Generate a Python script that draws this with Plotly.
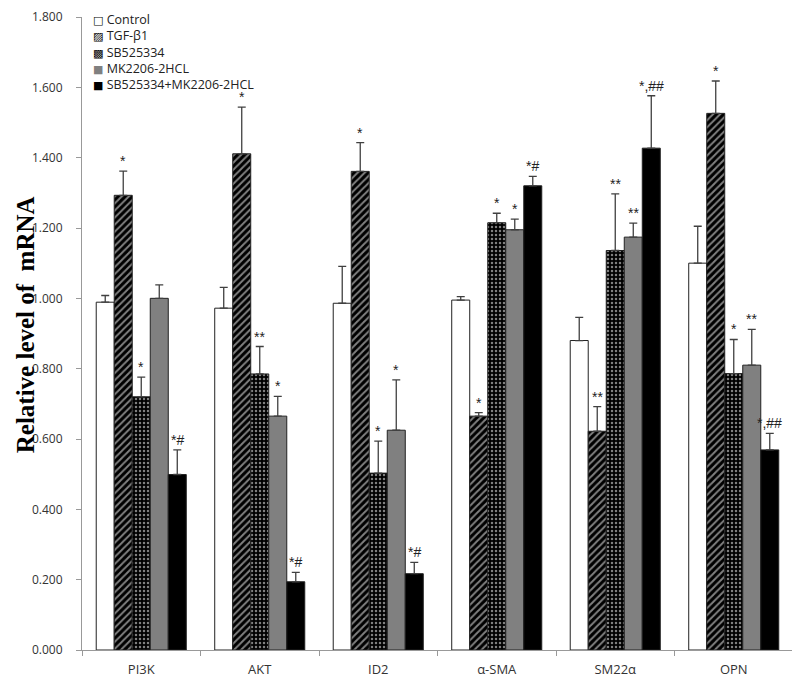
import plotly.graph_objects as go

categories = ["PI3K", "AKT", "ID2", "α-SMA", "SM22α", "OPN"]
series_names = ["Control", "TGF-β1", "SB525334", "MK2206-2HCL", "SB525334+MK2206-2HCL"]
legend_symbols = ["□", "▨", "▩", "■", "■"]
legend_symbol_colors = ["black", "black", "black", "#808080", "black"]

control = [0.989, 0.972, 0.986, 0.995, 0.880, 1.100]
tgf = [1.293, 1.411, 1.361, 0.665, 0.622, 1.526]
sb = [0.720, 0.785, 0.503, 1.215, 1.136, 0.786]
mk = [1.000, 0.665, 0.625, 1.195, 1.174, 0.810]
combo = [0.499, 0.194, 0.217, 1.320, 1.427, 0.569]

control_err = [0.019, 0.059, 0.105, 0.010, 0.066, 0.105]
tgf_err = [0.069, 0.133, 0.082, 0.010, 0.070, 0.092]
sb_err = [0.056, 0.078, 0.091, 0.027, 0.161, 0.097]
mk_err = [0.038, 0.056, 0.143, 0.030, 0.040, 0.102]
combo_err = [0.070, 0.027, 0.032, 0.027, 0.149, 0.047]

control_sig = ["", "", "", "", "", ""]
tgf_sig = ["*", "*", "*", "*", "**", "*"]
sb_sig = ["*", "**", "*", "*", "**", "*"]
mk_sig = ["", "*", "*", "*", "**", "**"]
combo_sig = ["*#", "*#", "*#", "*#", "*,##", "*,##"]

values = [control, tgf, sb, mk, combo]
errors = [control_err, tgf_err, sb_err, mk_err, combo_err]
sigs = [control_sig, tgf_sig, sb_sig, mk_sig, combo_sig]

styles = [
    dict(color="white", pattern=None),
    dict(color="black", pattern=dict(shape="/", fgcolor="white", bgcolor="black", size=5, solidity=0.4)),
    dict(color="black", pattern=dict(shape=".", fgcolor="white", bgcolor="black", size=4, solidity=0.3)),
    dict(color="#808080", pattern=None),
    dict(color="black", pattern=None),
]

# figure is placed by the page with an 8px body margin
W, H = 792, 670
ML, MR, MT, MB = 74, 7, 9, 28
plot_w = W - ML - MR
plot_h = H - MT - MB

fig = go.Figure()
for name, vals, errs, st in zip(series_names, values, errors, styles):
    marker = dict(color=st["color"], line=dict(color="#222222", width=1))
    if st["pattern"] is not None:
        marker["pattern"] = st["pattern"]
    fig.add_trace(go.Bar(
        name=name, x=categories, y=vals, marker=marker, showlegend=False,
        error_y=dict(type="data", array=errs, arrayminus=[0] * len(errs), symmetric=False,
                     color="#404040", thickness=1.3, width=4),
    ))

# significance annotations
cat_w = plot_w / len(categories)
bargap = 0.24
bar_w = cat_w * (1 - bargap) / len(series_names)
for si, (vals, errs, sg) in enumerate(zip(values, errors, sigs)):
    for ci, cat in enumerate(categories):
        if not sg[ci]:
            continue
        fig.add_annotation(
            x=cat, y=vals[ci] + errs[ci], xref="x", yref="y",
            text=sg[ci], showarrow=False, yanchor="bottom",
            xshift=(si - 2) * bar_w, yshift=0,
            font=dict(family="Liberation Sans, Arial", size=14, color="#222222"),
        )

# compact legend (top-left, inside the plot) like the original, as one text block
legend_lines = [
    '<span style="font-family:DejaVu Sans;font-size:11px;fill:%s">%s</span> %s' % (scol, sym, name)
    for name, sym, scol in zip(series_names, legend_symbols, legend_symbol_colors)
]
fig.add_annotation(
    text="<br>".join(legend_lines), align="left",
    xref="paper", yref="paper", x=(91 - 82) / plot_w, y=(plot_h + MT - 0.5) / plot_h,
    xanchor="left", yanchor="top", showarrow=False,
    font=dict(family="Open Sans, Liberation Sans", size=12.5, color="#222222"),
)

# y-axis title (placed close to the tick labels like the original)
fig.add_annotation(
    text="<b>Relative level of  mRNA</b>", textangle=-90,
    xref="paper", yref="paper", x=(17 - ML) / plot_w, y=0.513,
    xanchor="center", yanchor="middle", showarrow=False,
    font=dict(family="Liberation Serif, Times New Roman", size=25, color="black"),
)

fig.update_layout(
    width=W, height=H,
    margin=dict(l=ML, r=MR, t=MT, b=MB, autoexpand=False),
    plot_bgcolor="white", paper_bgcolor="white",
    barmode="group", bargap=bargap, bargroupgap=0,
    showlegend=False,
    font=dict(family="Open Sans, Liberation Sans", color="#333333"),
)
fig.update_yaxes(
    range=[0, 1.8], dtick=0.2, tickformat=".3f", automargin=False,
    showgrid=False, zeroline=False,
    showline=True, linecolor="#999999", linewidth=1,
    ticks="outside", ticklen=5, tickcolor="#999999", ticklabelstandoff=11,
    tickfont=dict(family="Open Sans, Liberation Sans", size=12, color="#333333"),
)
fig.update_xaxes(
    automargin=False,
    showgrid=False, showline=True, linecolor="#999999", linewidth=1,
    ticks="outside", ticklen=5, tickcolor="#999999", tickson="boundaries",
    ticklabelstandoff=7,
    tickfont=dict(family="Open Sans, Liberation Sans", size=13, color="#333333"),
)

fig.write_html("out.html")
